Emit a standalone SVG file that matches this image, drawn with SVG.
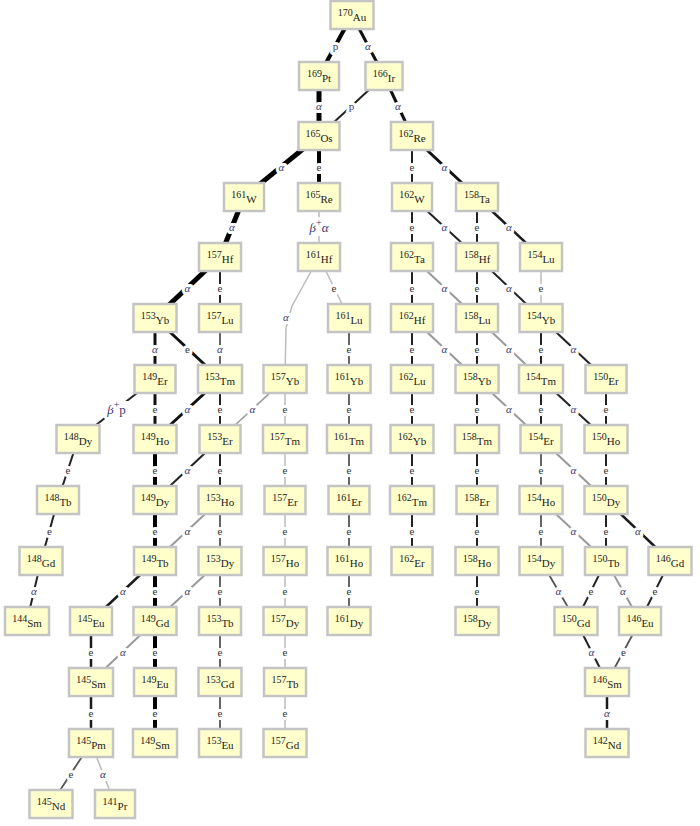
<svg xmlns="http://www.w3.org/2000/svg" width="700" height="826" viewBox="0 0 700 826">
<style>
line, path { fill:none; stroke-linecap:butt; }
.k5{stroke:#000;stroke-width:5}
.k4{stroke:#000;stroke-width:4}
.k3{stroke:#111;stroke-width:3}
.k25{stroke:#1a1a1a;stroke-width:2.5}
.k2{stroke:#222;stroke-width:2}
.d2{stroke:#555;stroke-width:1.8}
.g2{stroke:#999;stroke-width:2}
.g15{stroke:#999;stroke-width:1.5}
.l1{stroke:#bbb;stroke-width:1.5}
.b{fill:#ffffcc;stroke:#c4c4c4;stroke-width:2.5}
.t{font-family:"Liberation Serif","Times New Roman",serif;fill:#222;text-anchor:middle}
.m{font-size:10px}
.s{font-size:11px}
.lb{font-family:"Liberation Serif","Times New Roman",serif;font-size:11px;text-anchor:middle;fill:#333;stroke:#fff;stroke-width:6;paint-order:stroke;stroke-linejoin:round}
.a{font-style:italic;fill:#3a3a70}
.bp{font-size:13px}
.sup{font-size:10px;font-style:normal}
.bg{fill:#fff}
</style>
<rect width="700" height="826" fill="#fff"/>
<g id="connectors">
<g id="lines">
<line class="k4" x1="352" y1="15" x2="319" y2="76"/>
<line class="k3" x1="352" y1="15" x2="384" y2="76"/>
<line class="k5" x1="319" y1="76" x2="319" y2="136"/>
<line class="k2" x1="384" y1="76" x2="319" y2="136"/>
<line class="k3" x1="384" y1="76" x2="412" y2="136"/>
<line class="k5" x1="319" y1="136" x2="244" y2="197"/>
<line class="k4" x1="319" y1="136" x2="319" y2="197"/>
<line class="k2" x1="412" y1="136" x2="412" y2="197"/>
<line class="k3" x1="412" y1="136" x2="477" y2="197"/>
<line class="k5" x1="244" y1="197" x2="220" y2="257"/>
<line class="l1" x1="319" y1="197" x2="319" y2="257"/>
<line class="k2" x1="412" y1="197" x2="412" y2="257"/>
<line class="k2" x1="412" y1="197" x2="477" y2="257"/>
<line class="k2" x1="477" y1="197" x2="477" y2="257"/>
<line class="k25" x1="477" y1="197" x2="541" y2="257"/>
<line class="k5" x1="220" y1="257" x2="155" y2="318"/>
<line class="k2" x1="220" y1="257" x2="220" y2="318"/>
<path class="l1" d="M319,257 L292,306 L286,328 L285,379"/>
<line class="l1" x1="319" y1="257" x2="349" y2="318"/>
<line class="k2" x1="412" y1="257" x2="412" y2="318"/>
<line class="g2" x1="412" y1="257" x2="477" y2="318"/>
<line class="k2" x1="477" y1="257" x2="477" y2="318"/>
<line class="k2" x1="477" y1="257" x2="541" y2="318"/>
<line class="l1" x1="541" y1="257" x2="541" y2="318"/>
<line class="k3" x1="155" y1="318" x2="155" y2="379"/>
<line class="k3" x1="155" y1="318" x2="220" y2="379"/>
<line class="d2" x1="220" y1="318" x2="220" y2="379"/>
<line class="d2" x1="349" y1="318" x2="349" y2="379"/>
<line class="k2" x1="412" y1="318" x2="412" y2="379"/>
<line class="g2" x1="412" y1="318" x2="477" y2="379"/>
<line class="k2" x1="477" y1="318" x2="477" y2="379"/>
<line class="g2" x1="477" y1="318" x2="541" y2="379"/>
<line class="k2" x1="541" y1="318" x2="541" y2="379"/>
<line class="k2" x1="541" y1="318" x2="606" y2="379"/>
<line class="k2" x1="155" y1="379" x2="78" y2="439"/>
<line class="k3" x1="155" y1="379" x2="155" y2="439"/>
<line class="k3" x1="220" y1="379" x2="155" y2="439"/>
<line class="k2" x1="220" y1="379" x2="220" y2="439"/>
<line class="g15" x1="285" y1="379" x2="220" y2="439"/>
<line class="l1" x1="285" y1="379" x2="285" y2="439"/>
<line class="d2" x1="349" y1="379" x2="349" y2="439"/>
<line class="k2" x1="412" y1="379" x2="412" y2="439"/>
<line class="k2" x1="477" y1="379" x2="477" y2="439"/>
<line class="g2" x1="477" y1="379" x2="541" y2="439"/>
<line class="k2" x1="541" y1="379" x2="541" y2="439"/>
<line class="k2" x1="541" y1="379" x2="606" y2="439"/>
<line class="k2" x1="606" y1="379" x2="606" y2="439"/>
<line class="k2" x1="78" y1="439" x2="58" y2="500"/>
<line class="k4" x1="155" y1="439" x2="155" y2="500"/>
<line class="k2" x1="220" y1="439" x2="155" y2="500"/>
<line class="k2" x1="220" y1="439" x2="220" y2="500"/>
<line class="l1" x1="285" y1="439" x2="285" y2="500"/>
<line class="d2" x1="349" y1="439" x2="349" y2="500"/>
<line class="k2" x1="412" y1="439" x2="412" y2="500"/>
<line class="k2" x1="477" y1="439" x2="477" y2="500"/>
<line class="d2" x1="541" y1="439" x2="541" y2="500"/>
<line class="g2" x1="541" y1="439" x2="606" y2="500"/>
<line class="k2" x1="606" y1="439" x2="606" y2="500"/>
<line class="k2" x1="58" y1="500" x2="41" y2="561"/>
<line class="k4" x1="155" y1="500" x2="155" y2="561"/>
<line class="g2" x1="220" y1="500" x2="155" y2="561"/>
<line class="d2" x1="220" y1="500" x2="220" y2="561"/>
<line class="l1" x1="285" y1="500" x2="285" y2="561"/>
<line class="d2" x1="349" y1="500" x2="349" y2="561"/>
<line class="k2" x1="412" y1="500" x2="412" y2="561"/>
<line class="k2" x1="477" y1="500" x2="477" y2="561"/>
<line class="d2" x1="541" y1="500" x2="541" y2="561"/>
<line class="k2" x1="606" y1="500" x2="606" y2="561"/>
<line class="k25" x1="606" y1="500" x2="670" y2="561"/>
<line class="g2" x1="541" y1="500" x2="606" y2="561"/>
<line class="k2" x1="41" y1="561" x2="27" y2="621"/>
<line class="k25" x1="155" y1="561" x2="91" y2="621"/>
<line class="k4" x1="155" y1="561" x2="155" y2="621"/>
<line class="g2" x1="220" y1="561" x2="155" y2="621"/>
<line class="d2" x1="220" y1="561" x2="220" y2="621"/>
<line class="l1" x1="285" y1="561" x2="285" y2="621"/>
<line class="d2" x1="349" y1="561" x2="349" y2="621"/>
<line class="k2" x1="477" y1="561" x2="477" y2="621"/>
<line class="d2" x1="541" y1="561" x2="576" y2="621"/>
<line class="k2" x1="606" y1="561" x2="576" y2="621"/>
<line class="g2" x1="606" y1="561" x2="640" y2="621"/>
<line class="k2" x1="670" y1="561" x2="640" y2="621"/>
<line class="k25" x1="91" y1="621" x2="91" y2="682"/>
<line class="g2" x1="155" y1="621" x2="91" y2="682"/>
<line class="k4" x1="155" y1="621" x2="155" y2="682"/>
<line class="d2" x1="220" y1="621" x2="220" y2="682"/>
<line class="l1" x1="285" y1="621" x2="285" y2="682"/>
<line class="k2" x1="576" y1="621" x2="607" y2="682"/>
<line class="d2" x1="640" y1="621" x2="607" y2="682"/>
<line class="k25" x1="91" y1="682" x2="91" y2="743"/>
<line class="k4" x1="155" y1="682" x2="155" y2="743"/>
<line class="d2" x1="220" y1="682" x2="220" y2="743"/>
<line class="l1" x1="285" y1="682" x2="285" y2="743"/>
<line class="k25" x1="607" y1="682" x2="607" y2="743"/>
<line class="d2" x1="91" y1="743" x2="51" y2="804"/>
<line class="l1" x1="91" y1="743" x2="115" y2="804"/>
</g>
<g id="labels">
<text class="lb a" x="335.5" y="49.5" style="font-style:normal">p</text>
<text class="lb a" x="368" y="49.5">α</text>
<text class="lb a" x="319" y="110">α</text>
<text class="lb a" x="351.5" y="110" style="font-style:normal">p</text>
<text class="lb a" x="398" y="110">α</text>
<text class="lb a" x="281.5" y="170.5">α</text>
<text class="lb" x="319" y="170.5">e</text>
<text class="lb" x="412" y="170.5">e</text>
<text class="lb a" x="444.5" y="170.5">α</text>
<text class="lb a" x="232" y="231">α</text>
<rect class="bg" x="305" y="219" width="28" height="17"/>
<text class="lb a bp" x="319" y="232">β<tspan class="sup" dy="-6">+</tspan><tspan dy="6">α</tspan></text>
<text class="lb" x="412" y="231">e</text>
<text class="lb a" x="444.5" y="231">α</text>
<text class="lb" x="477" y="231">e</text>
<text class="lb a" x="509" y="231">α</text>
<text class="lb a" x="187.5" y="291.5">α</text>
<text class="lb" x="220" y="291.5">e</text>
<text class="lb a" x="286" y="321">α</text>
<text class="lb" x="334" y="291.5">e</text>
<text class="lb" x="412" y="291.5">e</text>
<text class="lb a" x="444.5" y="291.5">α</text>
<text class="lb" x="477" y="291.5">e</text>
<text class="lb a" x="509" y="291.5">α</text>
<text class="lb" x="541" y="291.5">e</text>
<text class="lb a" x="155" y="352.5">α</text>
<text class="lb" x="187.5" y="352.5">e</text>
<text class="lb a" x="220" y="352.5">α</text>
<text class="lb" x="349" y="352.5">e</text>
<text class="lb" x="412" y="352.5">e</text>
<text class="lb a" x="444.5" y="352.5">α</text>
<text class="lb" x="477" y="352.5">e</text>
<text class="lb a" x="509" y="352.5">α</text>
<text class="lb" x="541" y="352.5">e</text>
<text class="lb a" x="573.5" y="352.5">α</text>
<rect class="bg" x="104" y="401" width="26" height="17"/>
<text class="lb a bp" x="116.5" y="414">β<tspan class="sup" dy="-6">+</tspan><tspan dy="6" style="font-style:normal">p</tspan></text>
<text class="lb" x="155" y="413">e</text>
<text class="lb a" x="187.5" y="413">α</text>
<text class="lb" x="220" y="413">e</text>
<text class="lb a" x="252.5" y="413">α</text>
<text class="lb" x="285" y="413">e</text>
<text class="lb" x="349" y="413">e</text>
<text class="lb" x="412" y="413">e</text>
<text class="lb" x="477" y="413">e</text>
<text class="lb a" x="509" y="413">α</text>
<text class="lb" x="541" y="413">e</text>
<text class="lb a" x="573.5" y="413">α</text>
<text class="lb" x="606" y="413">e</text>
<text class="lb" x="68" y="473.5">e</text>
<text class="lb" x="155" y="473.5">e</text>
<text class="lb a" x="187.5" y="473.5">α</text>
<text class="lb" x="220" y="473.5">e</text>
<text class="lb" x="285" y="473.5">e</text>
<text class="lb" x="349" y="473.5">e</text>
<text class="lb" x="412" y="473.5">e</text>
<text class="lb" x="477" y="473.5">e</text>
<text class="lb" x="541" y="473.5">e</text>
<text class="lb a" x="573.5" y="473.5">α</text>
<text class="lb" x="606" y="473.5">e</text>
<text class="lb" x="49.5" y="534.5">e</text>
<text class="lb" x="155" y="534.5">e</text>
<text class="lb a" x="187.5" y="534.5">α</text>
<text class="lb" x="220" y="534.5">e</text>
<text class="lb" x="285" y="534.5">e</text>
<text class="lb" x="349" y="534.5">e</text>
<text class="lb" x="412" y="534.5">e</text>
<text class="lb" x="477" y="534.5">e</text>
<text class="lb" x="541" y="534.5">e</text>
<text class="lb" x="606" y="534.5">e</text>
<text class="lb a" x="638" y="534.5">α</text>
<text class="lb a" x="573.5" y="534.5">α</text>
<text class="lb a" x="34" y="595">α</text>
<text class="lb a" x="123" y="595">α</text>
<text class="lb" x="155" y="595">e</text>
<text class="lb a" x="187.5" y="595">α</text>
<text class="lb" x="220" y="595">e</text>
<text class="lb" x="285" y="595">e</text>
<text class="lb" x="349" y="595">e</text>
<text class="lb" x="477" y="595">e</text>
<text class="lb a" x="558.5" y="595">α</text>
<text class="lb" x="591" y="595">e</text>
<text class="lb a" x="623" y="595">α</text>
<text class="lb" x="655" y="595">e</text>
<text class="lb" x="91" y="655.5">e</text>
<text class="lb a" x="123" y="655.5">α</text>
<text class="lb" x="155" y="655.5">e</text>
<text class="lb" x="220" y="655.5">e</text>
<text class="lb" x="285" y="655.5">e</text>
<text class="lb a" x="591.5" y="655.5">α</text>
<text class="lb" x="623.5" y="655.5">e</text>
<text class="lb" x="91" y="716.5">e</text>
<text class="lb" x="155" y="716.5">e</text>
<text class="lb" x="220" y="716.5">e</text>
<text class="lb" x="285" y="716.5">e</text>
<text class="lb a" x="607" y="716.5">α</text>
<text class="lb" x="71" y="777.5">e</text>
<text class="lb a" x="103" y="777.5">α</text>
</g>
</g>
<g id="Au170"><rect class="b" x="330.5" y="1" width="43" height="28"/><text class="t" x="352" y="16"><tspan class="m">170</tspan><tspan class="s" dy="5">Au</tspan></text></g>
<g id="Pt169"><rect class="b" x="299" y="62" width="40" height="28"/><text class="t" x="319" y="77"><tspan class="m">169</tspan><tspan class="s" dy="5">Pt</tspan></text></g>
<g id="Ir166"><rect class="b" x="365.5" y="62" width="37" height="28"/><text class="t" x="384" y="77"><tspan class="m">166</tspan><tspan class="s" dy="5">Ir</tspan></text></g>
<g id="Os165"><rect class="b" x="298.5" y="122" width="41" height="28"/><text class="t" x="319" y="137"><tspan class="m">165</tspan><tspan class="s" dy="5">Os</tspan></text></g>
<g id="Re162"><rect class="b" x="391" y="122" width="42" height="28"/><text class="t" x="412" y="137"><tspan class="m">162</tspan><tspan class="s" dy="5">Re</tspan></text></g>
<g id="W161"><rect class="b" x="224" y="183" width="40" height="28"/><text class="t" x="244" y="198"><tspan class="m">161</tspan><tspan class="s" dy="5">W</tspan></text></g>
<g id="Re165"><rect class="b" x="298" y="183" width="42" height="28"/><text class="t" x="319" y="198"><tspan class="m">165</tspan><tspan class="s" dy="5">Re</tspan></text></g>
<g id="W162"><rect class="b" x="392" y="183" width="40" height="28"/><text class="t" x="412" y="198"><tspan class="m">162</tspan><tspan class="s" dy="5">W</tspan></text></g>
<g id="Ta158"><rect class="b" x="456" y="183" width="42" height="28"/><text class="t" x="477" y="198"><tspan class="m">158</tspan><tspan class="s" dy="5">Ta</tspan></text></g>
<g id="Hf157"><rect class="b" x="199" y="243" width="42" height="28"/><text class="t" x="220" y="258"><tspan class="m">157</tspan><tspan class="s" dy="5">Hf</tspan></text></g>
<g id="Hf161"><rect class="b" x="298" y="243" width="42" height="28"/><text class="t" x="319" y="258"><tspan class="m">161</tspan><tspan class="s" dy="5">Hf</tspan></text></g>
<g id="Ta162"><rect class="b" x="391" y="243" width="42" height="28"/><text class="t" x="412" y="258"><tspan class="m">162</tspan><tspan class="s" dy="5">Ta</tspan></text></g>
<g id="Hf158"><rect class="b" x="456" y="243" width="42" height="28"/><text class="t" x="477" y="258"><tspan class="m">158</tspan><tspan class="s" dy="5">Hf</tspan></text></g>
<g id="Lu154"><rect class="b" x="520" y="243" width="42" height="28"/><text class="t" x="541" y="258"><tspan class="m">154</tspan><tspan class="s" dy="5">Lu</tspan></text></g>
<g id="Yb153"><rect class="b" x="133.5" y="304" width="43" height="28"/><text class="t" x="155" y="319"><tspan class="m">153</tspan><tspan class="s" dy="5">Yb</tspan></text></g>
<g id="Lu157"><rect class="b" x="199" y="304" width="42" height="28"/><text class="t" x="220" y="319"><tspan class="m">157</tspan><tspan class="s" dy="5">Lu</tspan></text></g>
<g id="Lu161"><rect class="b" x="328" y="304" width="42" height="28"/><text class="t" x="349" y="319"><tspan class="m">161</tspan><tspan class="s" dy="5">Lu</tspan></text></g>
<g id="Hf162"><rect class="b" x="391" y="304" width="42" height="28"/><text class="t" x="412" y="319"><tspan class="m">162</tspan><tspan class="s" dy="5">Hf</tspan></text></g>
<g id="Lu158"><rect class="b" x="456" y="304" width="42" height="28"/><text class="t" x="477" y="319"><tspan class="m">158</tspan><tspan class="s" dy="5">Lu</tspan></text></g>
<g id="Yb154"><rect class="b" x="519.5" y="304" width="43" height="28"/><text class="t" x="541" y="319"><tspan class="m">154</tspan><tspan class="s" dy="5">Yb</tspan></text></g>
<g id="Er149"><rect class="b" x="134.5" y="365" width="41" height="28"/><text class="t" x="155" y="380"><tspan class="m">149</tspan><tspan class="s" dy="5">Er</tspan></text></g>
<g id="Tm153"><rect class="b" x="198" y="365" width="44" height="28"/><text class="t" x="220" y="380"><tspan class="m">153</tspan><tspan class="s" dy="5">Tm</tspan></text></g>
<g id="Yb157"><rect class="b" x="263.5" y="365" width="43" height="28"/><text class="t" x="285" y="380"><tspan class="m">157</tspan><tspan class="s" dy="5">Yb</tspan></text></g>
<g id="Yb161"><rect class="b" x="327.5" y="365" width="43" height="28"/><text class="t" x="349" y="380"><tspan class="m">161</tspan><tspan class="s" dy="5">Yb</tspan></text></g>
<g id="Lu162"><rect class="b" x="391" y="365" width="42" height="28"/><text class="t" x="412" y="380"><tspan class="m">162</tspan><tspan class="s" dy="5">Lu</tspan></text></g>
<g id="Yb158"><rect class="b" x="455.5" y="365" width="43" height="28"/><text class="t" x="477" y="380"><tspan class="m">158</tspan><tspan class="s" dy="5">Yb</tspan></text></g>
<g id="Tm154"><rect class="b" x="519" y="365" width="44" height="28"/><text class="t" x="541" y="380"><tspan class="m">154</tspan><tspan class="s" dy="5">Tm</tspan></text></g>
<g id="Er150"><rect class="b" x="585.5" y="365" width="41" height="28"/><text class="t" x="606" y="380"><tspan class="m">150</tspan><tspan class="s" dy="5">Er</tspan></text></g>
<g id="Dy148"><rect class="b" x="56.5" y="425" width="43" height="28"/><text class="t" x="78" y="440"><tspan class="m">148</tspan><tspan class="s" dy="5">Dy</tspan></text></g>
<g id="Ho149"><rect class="b" x="133.5" y="425" width="43" height="28"/><text class="t" x="155" y="440"><tspan class="m">149</tspan><tspan class="s" dy="5">Ho</tspan></text></g>
<g id="Er153"><rect class="b" x="199.5" y="425" width="41" height="28"/><text class="t" x="220" y="440"><tspan class="m">153</tspan><tspan class="s" dy="5">Er</tspan></text></g>
<g id="Tm157"><rect class="b" x="263" y="425" width="44" height="28"/><text class="t" x="285" y="440"><tspan class="m">157</tspan><tspan class="s" dy="5">Tm</tspan></text></g>
<g id="Tm161"><rect class="b" x="327" y="425" width="44" height="28"/><text class="t" x="349" y="440"><tspan class="m">161</tspan><tspan class="s" dy="5">Tm</tspan></text></g>
<g id="Yb162"><rect class="b" x="390.5" y="425" width="43" height="28"/><text class="t" x="412" y="440"><tspan class="m">162</tspan><tspan class="s" dy="5">Yb</tspan></text></g>
<g id="Tm158"><rect class="b" x="455" y="425" width="44" height="28"/><text class="t" x="477" y="440"><tspan class="m">158</tspan><tspan class="s" dy="5">Tm</tspan></text></g>
<g id="Er154"><rect class="b" x="520.5" y="425" width="41" height="28"/><text class="t" x="541" y="440"><tspan class="m">154</tspan><tspan class="s" dy="5">Er</tspan></text></g>
<g id="Ho150"><rect class="b" x="584.5" y="425" width="43" height="28"/><text class="t" x="606" y="440"><tspan class="m">150</tspan><tspan class="s" dy="5">Ho</tspan></text></g>
<g id="Tb148"><rect class="b" x="37" y="486" width="42" height="28"/><text class="t" x="58" y="501"><tspan class="m">148</tspan><tspan class="s" dy="5">Tb</tspan></text></g>
<g id="Dy149"><rect class="b" x="133.5" y="486" width="43" height="28"/><text class="t" x="155" y="501"><tspan class="m">149</tspan><tspan class="s" dy="5">Dy</tspan></text></g>
<g id="Ho153"><rect class="b" x="198.5" y="486" width="43" height="28"/><text class="t" x="220" y="501"><tspan class="m">153</tspan><tspan class="s" dy="5">Ho</tspan></text></g>
<g id="Er157"><rect class="b" x="264.5" y="486" width="41" height="28"/><text class="t" x="285" y="501"><tspan class="m">157</tspan><tspan class="s" dy="5">Er</tspan></text></g>
<g id="Er161"><rect class="b" x="328.5" y="486" width="41" height="28"/><text class="t" x="349" y="501"><tspan class="m">161</tspan><tspan class="s" dy="5">Er</tspan></text></g>
<g id="Tm162"><rect class="b" x="390" y="486" width="44" height="28"/><text class="t" x="412" y="501"><tspan class="m">162</tspan><tspan class="s" dy="5">Tm</tspan></text></g>
<g id="Er158"><rect class="b" x="456.5" y="486" width="41" height="28"/><text class="t" x="477" y="501"><tspan class="m">158</tspan><tspan class="s" dy="5">Er</tspan></text></g>
<g id="Ho154"><rect class="b" x="519.5" y="486" width="43" height="28"/><text class="t" x="541" y="501"><tspan class="m">154</tspan><tspan class="s" dy="5">Ho</tspan></text></g>
<g id="Dy150"><rect class="b" x="584.5" y="486" width="43" height="28"/><text class="t" x="606" y="501"><tspan class="m">150</tspan><tspan class="s" dy="5">Dy</tspan></text></g>
<g id="Gd148"><rect class="b" x="19.5" y="547" width="43" height="28"/><text class="t" x="41" y="562"><tspan class="m">148</tspan><tspan class="s" dy="5">Gd</tspan></text></g>
<g id="Tb149"><rect class="b" x="134" y="547" width="42" height="28"/><text class="t" x="155" y="562"><tspan class="m">149</tspan><tspan class="s" dy="5">Tb</tspan></text></g>
<g id="Dy153"><rect class="b" x="198.5" y="547" width="43" height="28"/><text class="t" x="220" y="562"><tspan class="m">153</tspan><tspan class="s" dy="5">Dy</tspan></text></g>
<g id="Ho157"><rect class="b" x="263.5" y="547" width="43" height="28"/><text class="t" x="285" y="562"><tspan class="m">157</tspan><tspan class="s" dy="5">Ho</tspan></text></g>
<g id="Ho161"><rect class="b" x="327.5" y="547" width="43" height="28"/><text class="t" x="349" y="562"><tspan class="m">161</tspan><tspan class="s" dy="5">Ho</tspan></text></g>
<g id="Er162"><rect class="b" x="391.5" y="547" width="41" height="28"/><text class="t" x="412" y="562"><tspan class="m">162</tspan><tspan class="s" dy="5">Er</tspan></text></g>
<g id="Ho158"><rect class="b" x="455.5" y="547" width="43" height="28"/><text class="t" x="477" y="562"><tspan class="m">158</tspan><tspan class="s" dy="5">Ho</tspan></text></g>
<g id="Dy154"><rect class="b" x="519.5" y="547" width="43" height="28"/><text class="t" x="541" y="562"><tspan class="m">154</tspan><tspan class="s" dy="5">Dy</tspan></text></g>
<g id="Tb150"><rect class="b" x="585" y="547" width="42" height="28"/><text class="t" x="606" y="562"><tspan class="m">150</tspan><tspan class="s" dy="5">Tb</tspan></text></g>
<g id="Gd146"><rect class="b" x="648.5" y="547" width="43" height="28"/><text class="t" x="670" y="562"><tspan class="m">146</tspan><tspan class="s" dy="5">Gd</tspan></text></g>
<g id="Sm144"><rect class="b" x="5" y="607" width="44" height="28"/><text class="t" x="27" y="622"><tspan class="m">144</tspan><tspan class="s" dy="5">Sm</tspan></text></g>
<g id="Eu145"><rect class="b" x="70" y="607" width="42" height="28"/><text class="t" x="91" y="622"><tspan class="m">145</tspan><tspan class="s" dy="5">Eu</tspan></text></g>
<g id="Gd149"><rect class="b" x="133.5" y="607" width="43" height="28"/><text class="t" x="155" y="622"><tspan class="m">149</tspan><tspan class="s" dy="5">Gd</tspan></text></g>
<g id="Tb153"><rect class="b" x="199" y="607" width="42" height="28"/><text class="t" x="220" y="622"><tspan class="m">153</tspan><tspan class="s" dy="5">Tb</tspan></text></g>
<g id="Dy157"><rect class="b" x="263.5" y="607" width="43" height="28"/><text class="t" x="285" y="622"><tspan class="m">157</tspan><tspan class="s" dy="5">Dy</tspan></text></g>
<g id="Dy161"><rect class="b" x="327.5" y="607" width="43" height="28"/><text class="t" x="349" y="622"><tspan class="m">161</tspan><tspan class="s" dy="5">Dy</tspan></text></g>
<g id="Dy158"><rect class="b" x="455.5" y="607" width="43" height="28"/><text class="t" x="477" y="622"><tspan class="m">158</tspan><tspan class="s" dy="5">Dy</tspan></text></g>
<g id="Gd150"><rect class="b" x="554.5" y="607" width="43" height="28"/><text class="t" x="576" y="622"><tspan class="m">150</tspan><tspan class="s" dy="5">Gd</tspan></text></g>
<g id="Eu146"><rect class="b" x="619" y="607" width="42" height="28"/><text class="t" x="640" y="622"><tspan class="m">146</tspan><tspan class="s" dy="5">Eu</tspan></text></g>
<g id="Sm145"><rect class="b" x="69" y="668" width="44" height="28"/><text class="t" x="91" y="683"><tspan class="m">145</tspan><tspan class="s" dy="5">Sm</tspan></text></g>
<g id="Eu149"><rect class="b" x="134" y="668" width="42" height="28"/><text class="t" x="155" y="683"><tspan class="m">149</tspan><tspan class="s" dy="5">Eu</tspan></text></g>
<g id="Gd153"><rect class="b" x="198.5" y="668" width="43" height="28"/><text class="t" x="220" y="683"><tspan class="m">153</tspan><tspan class="s" dy="5">Gd</tspan></text></g>
<g id="Tb157"><rect class="b" x="264" y="668" width="42" height="28"/><text class="t" x="285" y="683"><tspan class="m">157</tspan><tspan class="s" dy="5">Tb</tspan></text></g>
<g id="Sm146"><rect class="b" x="585" y="668" width="44" height="28"/><text class="t" x="607" y="683"><tspan class="m">146</tspan><tspan class="s" dy="5">Sm</tspan></text></g>
<g id="Pm145"><rect class="b" x="69" y="729" width="44" height="28"/><text class="t" x="91" y="744"><tspan class="m">145</tspan><tspan class="s" dy="5">Pm</tspan></text></g>
<g id="Sm149"><rect class="b" x="133" y="729" width="44" height="28"/><text class="t" x="155" y="744"><tspan class="m">149</tspan><tspan class="s" dy="5">Sm</tspan></text></g>
<g id="Eu153"><rect class="b" x="199" y="729" width="42" height="28"/><text class="t" x="220" y="744"><tspan class="m">153</tspan><tspan class="s" dy="5">Eu</tspan></text></g>
<g id="Gd157"><rect class="b" x="263.5" y="729" width="43" height="28"/><text class="t" x="285" y="744"><tspan class="m">157</tspan><tspan class="s" dy="5">Gd</tspan></text></g>
<g id="Nd142"><rect class="b" x="585.5" y="729" width="43" height="28"/><text class="t" x="607" y="744"><tspan class="m">142</tspan><tspan class="s" dy="5">Nd</tspan></text></g>
<g id="Nd145"><rect class="b" x="29.5" y="790" width="43" height="28"/><text class="t" x="51" y="805"><tspan class="m">145</tspan><tspan class="s" dy="5">Nd</tspan></text></g>
<g id="Pr141"><rect class="b" x="95" y="790" width="40" height="28"/><text class="t" x="115" y="805"><tspan class="m">141</tspan><tspan class="s" dy="5">Pr</tspan></text></g>
</svg>
